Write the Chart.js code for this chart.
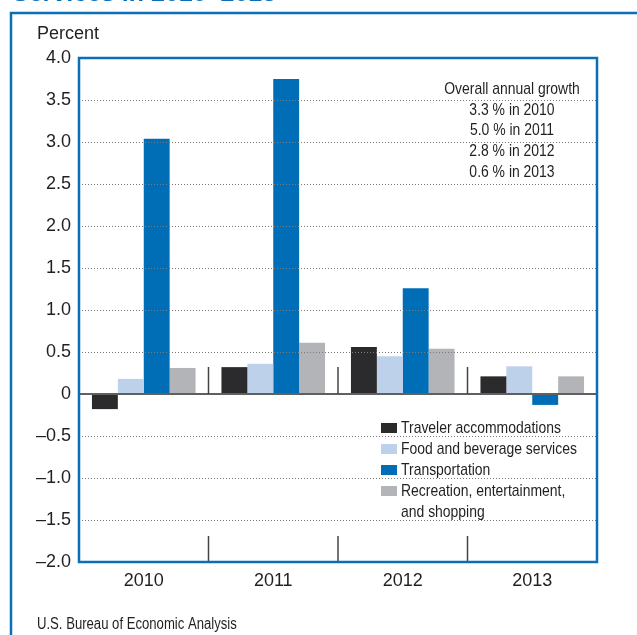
<!DOCTYPE html>
<html>
<head>
<meta charset="utf-8">
<script src="https://cdn.jsdelivr.net/npm/chart.js@4.4.1/dist/chart.umd.min.js"></script>
<style>
  body { margin: 0; background: #fff; }
</style>
</head>
<body>
<canvas id="chart" width="637" height="635"></canvas>
<script>
const years = ['2010', '2011', '2012', '2013'];
const traveler = [-0.18, 0.32, 0.56, 0.21];
const food = [0.18, 0.36, 0.45, 0.33];
const transport = [3.04, 3.75, 1.26, -0.13];
const recreation = [0.31, 0.61, 0.54, 0.21];
const growthRates = ['3.3', '5.0', '2.8', '0.6'];

const seriesNames = ['Traveler accommodations', 'Food and beverage services', 'Transportation', 'Recreation, entertainment,|and shopping'];
const seriesColors = ['#2b2a2c', '#bdd1ea', '#006db7', '#b3b4b7'];

const blue = '#0b6fb8';
const ink = '#231f20';
const sans = '"Liberation Sans", Arial, sans-serif';

// condensed text, like the narrow face used in the original
function narrowText(c, txt, x, y, align) {
  const w = c.measureText(txt).width * 0.82;
  let sx = x;
  if (align === 'center') sx = x - w / 2;
  c.save();
  c.textAlign = 'left';
  c.translate(sx, y);
  c.scale(0.82, 1);
  c.fillText(txt, 0, 0);
  c.restore();
}

const decor = {
  id: 'decor',
  beforeDraw(chart) {
    const c = chart.ctx;
    c.save();
    // outer frame
    c.strokeStyle = blue;
    c.lineWidth = 2.5;
    c.strokeRect(11, 13, 700, 700);
    // cut off title
    c.fillStyle = blue;
    c.font = 'bold 25px ' + sans;
    c.textBaseline = 'alphabetic';
    c.fillText('Services in 2010\u20132013', 12, 1);
    // unit label
    c.fillStyle = ink;
    c.font = '18px ' + sans;
    c.textBaseline = 'middle';
    c.fillText('Percent', 37, 34);
    // source
    c.font = '16px ' + sans;
    narrowText(c, 'U.S. Bureau of Economic Analysis', 37, 625);
    c.restore();
  },
  afterDatasetsDraw(chart) {
    const c = chart.ctx;
    const a = chart.chartArea;
    const y = chart.scales.y;
    const x = chart.scales.x;
    c.save();

    // dotted grid on top of bars
    c.strokeStyle = '#7a7a7a';
    c.lineWidth = 1;
    c.setLineDash([1, 2]);
    y.ticks.forEach(t => {
      if (t.value === 0 || t.value === y.min || t.value === y.max) return;
      const py = Math.round(y.getPixelForValue(t.value)) + 0.5;
      c.beginPath();
      c.moveTo(a.left, py);
      c.lineTo(a.right, py);
      c.stroke();
    });
    c.setLineDash([]);

    // zero line
    const y0 = y.getPixelForValue(0);
    c.strokeStyle = '#606060';
    c.lineWidth = 2;
    c.beginPath();
    c.moveTo(a.left, y0);
    c.lineTo(a.right, y0);
    c.stroke();

    // dividers between years
    c.strokeStyle = '#444';
    c.lineWidth = 1.5;
    for (let i = 0; i < years.length - 1; i++) {
      const px = (x.getPixelForValue(i) + x.getPixelForValue(i + 1)) / 2;
      c.beginPath();
      c.moveTo(px, y0);
      c.lineTo(px, y0 - 27);
      c.moveTo(px, a.bottom);
      c.lineTo(px, a.bottom - 26);
      c.stroke();
    }

    // plot border
    c.strokeStyle = blue;
    c.lineWidth = 2.5;
    c.strokeRect(a.left, a.top, a.right - a.left, a.bottom - a.top);

    // growth note
    c.fillStyle = ink;
    c.font = '17px ' + sans;
    c.textBaseline = 'middle';
    const nx = a.right - 85;
    narrowText(c, 'Overall annual growth', nx, a.top + 31, 'center');
    growthRates.forEach((r, i) => {
      narrowText(c, r + ' % in ' + years[i], nx, a.top + 52 + i * 20.7, 'center');
    });

    // legend
    const lx = a.right - 216;
    let row = 0;
    seriesNames.forEach((name, i) => {
      const ly = a.top + 370 + row * 21;
      c.fillStyle = seriesColors[i];
      c.fillRect(lx, ly - 5, 16, 10);
      c.fillStyle = ink;
      name.split('|').forEach(part => {
        narrowText(c, part, lx + 20, a.top + 370 + row * 21);
        row++;
      });
    });

    c.restore();
  }
};

new Chart(document.getElementById('chart'), {
  type: 'bar',
  data: {
    labels: years,
    datasets: [
      { label: 'Traveler accommodations', data: traveler, backgroundColor: seriesColors[0] },
      { label: 'Food and beverage services', data: food, backgroundColor: seriesColors[1] },
      { label: 'Transportation', data: transport, backgroundColor: seriesColors[2] },
      { label: 'Recreation, entertainment, and shopping', data: recreation, backgroundColor: seriesColors[3] }
    ]
  },
  options: {
    responsive: false,
    animation: false,
    devicePixelRatio: 1,
    layout: { padding: { left: 0, top: 58, right: 40, bottom: 33 } },
    datasets: { bar: { categoryPercentage: 0.8, barPercentage: 1.0 } },
    plugins: { legend: { display: false }, tooltip: { enabled: false } },
    scales: {
      x: {
        grid: { display: false, drawTicks: false },
        border: { display: false },
        ticks: { color: ink, font: { family: sans, size: 18 }, padding: 8 },
        afterFit(s) { s.height = 40; }
      },
      y: {
        min: -2,
        max: 4,
        grid: { display: false, drawTicks: false },
        border: { display: false },
        ticks: {
          stepSize: 0.5,
          color: ink,
          padding: 8,
          font: { family: sans, size: 18 },
          callback: v => v === 0 ? '0' : (v < 0 ? '\u2013' + Math.abs(v).toFixed(1) : v.toFixed(1))
        },
        afterFit(s) { s.width = 79; }
      }
    }
  },
  plugins: [decor]
});
</script>
</body>
</html>
